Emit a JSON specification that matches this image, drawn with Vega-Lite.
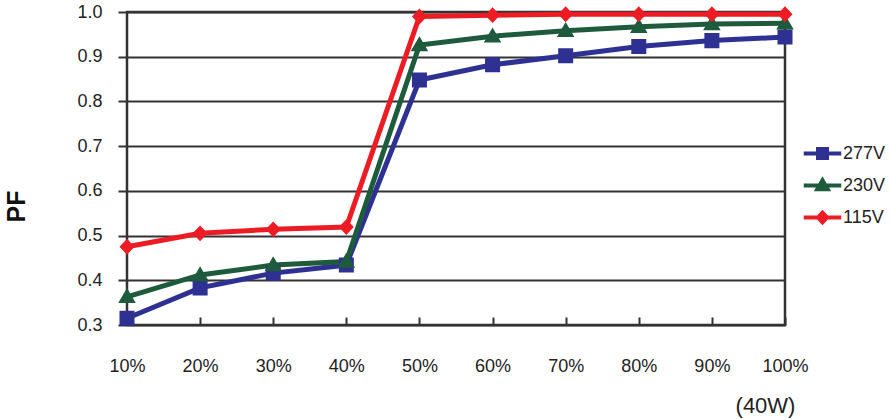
{
  "$schema": "https://vega.github.io/schema/vega-lite/v6.json",
  "width": 658,
  "height": 313,
  "autosize": {"type": "none"},
  "padding": {"left": 127, "top": 12, "right": 105, "bottom": 94},
  "background": "white",
  "data": {
    "values": [
      {"load": "10%", "voltage": "277V", "pf": 0.315},
      {"load": "20%", "voltage": "277V", "pf": 0.383},
      {"load": "30%", "voltage": "277V", "pf": 0.416},
      {"load": "40%", "voltage": "277V", "pf": 0.434},
      {"load": "50%", "voltage": "277V", "pf": 0.848},
      {"load": "60%", "voltage": "277V", "pf": 0.882},
      {"load": "70%", "voltage": "277V", "pf": 0.902},
      {"load": "80%", "voltage": "277V", "pf": 0.923},
      {"load": "90%", "voltage": "277V", "pf": 0.936},
      {"load": "100%", "voltage": "277V", "pf": 0.944},
      {"load": "10%", "voltage": "230V", "pf": 0.363},
      {"load": "20%", "voltage": "230V", "pf": 0.412},
      {"load": "30%", "voltage": "230V", "pf": 0.434},
      {"load": "40%", "voltage": "230V", "pf": 0.442},
      {"load": "50%", "voltage": "230V", "pf": 0.926},
      {"load": "60%", "voltage": "230V", "pf": 0.946},
      {"load": "70%", "voltage": "230V", "pf": 0.958},
      {"load": "80%", "voltage": "230V", "pf": 0.967},
      {"load": "90%", "voltage": "230V", "pf": 0.973},
      {"load": "100%", "voltage": "230V", "pf": 0.975},
      {"load": "10%", "voltage": "115V", "pf": 0.475},
      {"load": "20%", "voltage": "115V", "pf": 0.505},
      {"load": "30%", "voltage": "115V", "pf": 0.514},
      {"load": "40%", "voltage": "115V", "pf": 0.519},
      {"load": "50%", "voltage": "115V", "pf": 0.99},
      {"load": "60%", "voltage": "115V", "pf": 0.993},
      {"load": "70%", "voltage": "115V", "pf": 0.995},
      {"load": "80%", "voltage": "115V", "pf": 0.995},
      {"load": "90%", "voltage": "115V", "pf": 0.995},
      {"load": "100%", "voltage": "115V", "pf": 0.995}
    ]
  },
  "encoding": {
    "x": {
      "field": "load",
      "type": "ordinal",
      "sort": ["10%", "20%", "30%", "40%", "50%", "60%", "70%", "80%", "90%", "100%"],
      "scale": {"type": "point", "padding": 0},
      "axis": {
        "title": "(40W)",
        "titleX": 638,
        "titleY": 80,
        "titleAlign": "center",
        "titleBaseline": "middle",
        "titleFontSize": 22,
        "titleFontWeight": "normal",
        "titleColor": "#222",
        "labelAngle": 0,
        "labelFontSize": 18,
        "labelColor": "#222",
        "labelPadding": 40,
        "tickSize": -8,
        "tickWidth": 2,
        "tickColor": "#333",
        "domain": false,
        "grid": false
      }
    },
    "y": {
      "field": "pf",
      "type": "quantitative",
      "scale": {"domain": [0.3, 1.0], "nice": false, "zero": false},
      "axis": {
        "title": "PF",
        "titleFontSize": 25,
        "titleFontWeight": "bold",
        "titleColor": "#111",
        "titleAngle": -90,
        "titleX": -111,
        "titleY": 194,
        "titleAlign": "center",
        "titleBaseline": "middle",
        "values": [0.3, 0.4, 0.5, 0.6, 0.7, 0.8, 0.9, 1.0],
        "format": ".1f",
        "labelFontSize": 18,
        "labelColor": "#222",
        "labelPadding": 16,
        "tickSize": 9,
        "tickWidth": 2,
        "tickColor": "#333",
        "domain": false,
        "grid": true,
        "gridColor": "#333",
        "gridWidth": 2,
        "gridOpacity": 1
      }
    },
    "color": {
      "field": "voltage",
      "type": "nominal",
      "scale": {"domain": ["277V", "230V", "115V"], "range": ["#2E3192", "#1E5B3C", "#ED1C24"]},
      "legend": {
        "title": null,
        "orient": "none",
        "legendX": 681,
        "legendY": 127,
        "symbolSize": 625,
        "rowPadding": 5,
        "labelOffset": 6,
        "labelFontSize": 18,
        "labelColor": "#222",
        "symbolOpacity": 1,
        "encode": {
          "symbols": {
            "update": {
              "stroke": {"scale": "color", "field": "value"},
              "strokeWidth": {"value": 4}
            }
          }
        }
      }
    }
  },
  "layer": [
    {
      "mark": {"type": "line", "strokeWidth": 5}
    },
    {
      "mark": {"type": "point", "filled": true, "opacity": 1, "size": 1740, "strokeWidth": 0},
      "encoding": {
        "shape": {
          "field": "voltage",
          "type": "nominal",
          "scale": {
            "domain": ["277V", "230V", "115V"],
            "range": [
              "M-1.5,0H1.5M-0.36,-0.36H0.36V0.36H-0.36Z",
              "M-1.5,0H1.5M0,-0.42L0.42,0.3L-0.42,0.3Z",
              "M-1.5,0H1.5M0,-0.38L0.36,0L0,0.38L-0.36,0Z"
            ]
          },
          "legend": {
            "title": null,
            "orient": "none",
            "legendX": 681,
            "legendY": 127,
            "symbolSize": 625,
            "rowPadding": 5,
            "labelOffset": 6,
            "labelFontSize": 18,
            "labelColor": "#222",
            "symbolOpacity": 1,
            "encode": {
              "symbols": {
                "update": {
                  "stroke": {"scale": "color", "field": "value"},
                  "strokeWidth": {"value": 4}
                }
              }
            }
          }
        }
      }
    }
  ],
  "config": {
    "font": "Liberation Sans",
    "view": {"stroke": "#333", "strokeWidth": 2.5}
  }
}
